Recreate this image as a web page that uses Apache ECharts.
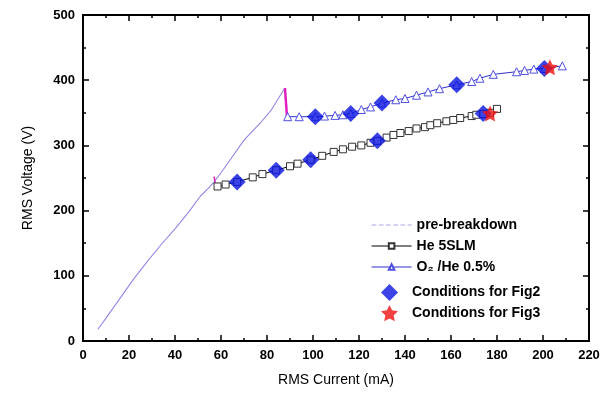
<!DOCTYPE html>
<html>
<head>
<meta charset="utf-8">
<script src="https://cdn.jsdelivr.net/npm/echarts@6/dist/echarts.min.js"></script>
<style>
  html, body { margin: 0; padding: 0; background: #fff; }
  #chart { width: 614px; height: 393px; }
</style>
</head>
<body>
<div id="chart"></div>
<script>
// values: [current mA, voltage V]
const preBreakdown = [
  [6.5, 18], [10, 35], [16, 65], [22, 95], [28, 122], [34, 148], [40, 172],
  [46, 198], [51, 222], [55, 236], [57, 244], [60, 258], [64, 278], [70, 308],
  [77, 334], [82, 355], [86, 378], [87.8, 388]
];
const heJump = [[57, 252], [57.6, 240]];
const o2Jump = [[87.8, 388], [88.7, 344]];

const he5slm = [
  [58.5, 237], [62, 240], [67, 244], [73.8, 251], [78, 256], [84, 262], [90, 268],
  [93.3, 272], [99, 278], [104, 284], [109, 290], [113, 294], [117, 298], [121, 300],
  [125, 304], [128, 307], [132, 312], [135, 316], [138, 319], [141.6, 322], [145, 326],
  [148.7, 328], [151, 331], [154, 334], [158, 337], [161, 339], [164, 342], [169, 345],
  [171, 347], [174, 348], [177, 350], [180, 356]
];
const o2he = [
  [89, 344], [94, 344], [101, 344], [105, 345], [109.6, 346], [113, 347], [116.4, 349],
  [121, 355], [125, 359], [130, 365], [136, 370], [140, 372], [145, 377], [150, 382],
  [155, 387], [162.5, 393], [169, 398], [172.6, 403], [178.4, 409], [188.5, 413],
  [192, 415], [196, 417], [200.6, 418], [208.4, 422]
];
const fig2Points = [
  [67, 244], [84, 262], [99, 278], [128, 307], [174, 349],
  [101, 344], [116.4, 349], [130, 365], [162.5, 393], [200.6, 418]
];
const fig3Points = [[177, 349], [203, 420]];

const xTicks = { min: 0, max: 220, interval: 20 };
const yTicks = { min: 0, max: 500, interval: 100 };

const starPath = 'path://M0,-10L2.9,-4L9.5,-3.1L4.7,1.5L5.9,8.1L0,5L-5.9,8.1L-4.7,1.5L-9.5,-3.1L-2.9,-4Z';
const font = 'Liberation Sans, Arial, sans-serif';

const chart = echarts.init(document.getElementById('chart'));

function frameAxis(extra) {
  return Object.assign({
    type: 'value',
    show: true,
    axisLine: { show: true, onZero: false, lineStyle: { color: '#000', width: 2 } },
    axisTick: { show: true, inside: true, length: 6, lineStyle: { color: '#000', width: 1.5 } },
    minorTick: { show: true, splitNumber: 2, length: 3, lineStyle: { color: '#000', width: 1.5 } },
    splitLine: { show: false }
  }, extra);
}

const legendText = { fontFamily: font, fontSize: 14, fontWeight: 'bold', color: '#000' };
const tickLabel = { fontFamily: font, fontSize: 13, fontWeight: 'bold', color: '#000', margin: 8 };
const plotBox = { left: 83, right: 25, top: 15, bottom: 52 };

chart.setOption({
  animation: false,
  backgroundColor: '#fff',
  grid: [
    Object.assign({ show: true, borderColor: '#000', borderWidth: 2 }, plotBox),
    Object.assign({}, plotBox)
  ],
  xAxis: [
    frameAxis({
      gridIndex: 0, position: 'bottom', ...xTicks,
      name: 'RMS Current (mA)', nameLocation: 'middle', nameGap: 32,
      nameTextStyle: { fontFamily: font, fontSize: 14, color: '#000' },
      axisLabel: tickLabel
    }),
    frameAxis({ gridIndex: 1, position: 'top', ...xTicks, axisLabel: { show: false } })
  ],
  yAxis: [
    frameAxis({
      gridIndex: 0, position: 'left', ...yTicks,
      name: 'RMS Voltage (V)', nameLocation: 'middle', nameGap: 48,
      nameTextStyle: { fontFamily: font, fontSize: 14, color: '#000' },
      axisLabel: tickLabel
    }),
    frameAxis({ gridIndex: 1, position: 'right', ...yTicks, axisLabel: { show: false } })
  ],
  legend: [
    {
      id: 'lines',
      orient: 'vertical', left: 366, top: 213,
      itemWidth: 40, itemHeight: 7, itemGap: 7,
      textStyle: legendText,
      data: [
        { name: 'pre-breakdown', icon: 'inherit', itemStyle: { opacity: 0 },
          lineStyle: { type: 'dashed', color: '#b0a8e8', width: 1.2, opacity: 1 } },
        { name: 'He 5SLM', lineStyle: { width: 1 } },
        { name: 'O\u2082 /He 0.5%', lineStyle: { width: 1 } }
      ]
    },
    {
      id: 'marks',
      orient: 'vertical', left: 376, top: 279,
      itemWidth: 17, itemHeight: 17, itemGap: 4,
      textStyle: Object.assign({ padding: [0, 0, 0, 9] }, legendText),
      data: ['Conditions for Fig2', 'Conditions for Fig3']
    }
  ],
  series: [
    {
      name: 'pre-breakdown', type: 'line', data: preBreakdown,
      symbol: 'none', lineStyle: { color: '#9088e2', width: 1.1 },
      itemStyle: { color: '#b0a8e8' }
    },
    {
      name: 'heJump', type: 'line', data: heJump, symbol: 'none',
      lineStyle: { color: '#e020c0', width: 1.5 }
    },
    {
      name: 'o2Jump', type: 'line', data: o2Jump, symbol: 'none',
      lineStyle: { color: '#e020c0', width: 2.5 }
    },
    {
      name: 'He 5SLM', type: 'line', data: he5slm,
      symbol: 'rect', symbolSize: 7,
      lineStyle: { color: '#000', width: 1 },
      itemStyle: { color: '#fff', borderColor: '#333', borderWidth: 1 }
    },
    {
      name: 'O\u2082 /He 0.5%', type: 'line', data: o2he,
      symbol: 'triangle', symbolSize: 8,
      lineStyle: { color: '#3030d0', width: 1 },
      itemStyle: { color: '#fff', borderColor: '#5050e0', borderWidth: 1 }
    },
    {
      name: 'Conditions for Fig2', type: 'scatter', data: fig2Points,
      symbol: 'diamond', symbolSize: 17, z: 4,
      itemStyle: { color: '#0a14e0' }
    },
    {
      name: 'Conditions for Fig3', type: 'scatter', data: fig3Points,
      symbol: starPath, symbolSize: 16, z: 5,
      itemStyle: { color: '#f01010' }
    },
    // invisible copy on the mirror axes so the top/right ticks get drawn
    {
      name: 'frame', type: 'line', xAxisIndex: 1, yAxisIndex: 1, data: fig3Points,
      symbol: 'none', silent: true, lineStyle: { opacity: 0 }
    }
  ]
});
</script>
</body>
</html>
